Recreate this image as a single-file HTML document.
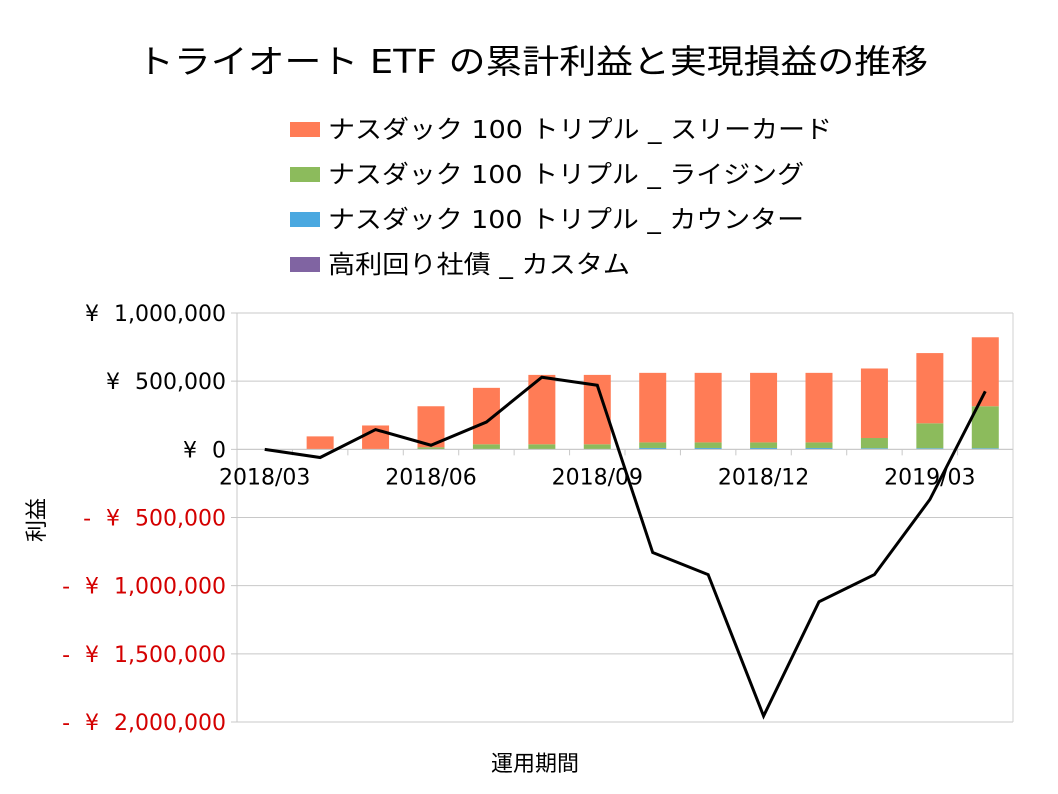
<!DOCTYPE html>
<html><head><meta charset="utf-8"><style>
body{margin:0;background:#fff}
svg{display:block;font-family:"DejaVu Sans","Noto Sans CJK JP",sans-serif}
</style></head><body>
<svg id="chart" width="1058" height="794" viewBox="0 0 1058 794">
<rect width="1058" height="794" fill="#fff"/>
<text x="137" y="73" font-size="33" textLength="791" lengthAdjust="spacingAndGlyphs" fill="#000">トライオート ETF の累計利益と実現損益の推移</text>
<g font-size="25">
<g><rect x="290" y="122" width="30" height="15" fill="#ff7c56"/><text x="328" y="138" textLength="504" lengthAdjust="spacingAndGlyphs">ナスダック 100 トリプル _ スリーカード</text></g>
<g><rect x="290" y="167" width="30" height="15" fill="#8cbb5c"/><text x="328" y="183" textLength="476" lengthAdjust="spacingAndGlyphs">ナスダック 100 トリプル _ ライジング</text></g>
<g><rect x="290" y="212" width="30" height="15" fill="#4aa8e0"/><text x="328" y="228" textLength="476" lengthAdjust="spacingAndGlyphs">ナスダック 100 トリプル _ カウンター</text></g>
<g><rect x="290" y="257" width="30" height="15" fill="#8064a2"/><text x="328" y="273" textLength="302" lengthAdjust="spacingAndGlyphs">高利回り社債 _ カスタム</text></g>
</g>
<g id="plot"></g>
<text x="535" y="771" font-size="22" text-anchor="middle">運用期間</text>
<text transform="translate(44,520) rotate(-90)" font-size="22" text-anchor="middle">利益</text>
</svg>
<script>
const categories=["2018/03","2018/04","2018/05","2018/06","2018/07","2018/08","2018/09","2018/10","2018/11","2018/12","2019/01","2019/02","2019/03","2019/04"];
const xLabels=["2018/03","","","2018/06","","","2018/09","","","2018/12","","","2019/03",""];
const counterVals=[0,0,0,0,0,0,0,10000,10000,10000,10000,8000,8000,8000];
const risingVals=[0,0,0,15000,37000,37000,37000,41000,41000,41000,41000,75000,183000,308000];
const tripleTotals=[0,95000,175000,316000,451000,546000,546000,561000,561000,561000,561000,593000,706000,822000];
const bondVals=[0,0,0,0,0,0,0,0,0,0,0,0,0,0];
const realized=[0,-60000,145000,30000,200000,529000,470000,-757000,-919000,-1956000,-1118000,-919000,-368000,426000];
const yTicks=[1000000,500000,0,-500000,-1000000,-1500000,-2000000];
const yTickLabels=["¥ 1,000,000","¥ 500,000","¥ 0","- ¥ 500,000","- ¥ 1,000,000","- ¥ 1,500,000","- ¥ 2,000,000"];

const NS="http://www.w3.org/2000/svg";
const L=237,R=1013,T=313,B=722,yMax=1000000,yMin=-2000000;
const bw=(R-L)/categories.length;
const y=v=>T+(yMax-v)/(yMax-yMin)*(B-T);
const xc=i=>L+bw*(i+0.5);
const g=document.getElementById('plot');
function mk(tag,attrs){const e=document.createElementNS(NS,tag);for(const k in attrs)e.setAttribute(k,attrs[k]);g.appendChild(e);return e;}

yTicks.forEach((v,i)=>{
  const ln=mk('line',{x1:L-6,x2:R,y1:y(v),y2:y(v),stroke:'#c8c8c8','stroke-width':1});
  
  
  const t=mk('text',{x:226,y:y(v)+8,'font-size':22,'word-spacing':'8px','text-anchor':'end',fill:v<0?'#d40000':'#000'});
  t.textContent=yTickLabels[i];
  
  
});
const ax=mk('line',{x1:L,x2:L,y1:T,y2:B,stroke:'#c8c8c8'});


const rx=mk('line',{x1:R,x2:R,y1:T,y2:B,stroke:'#d0d0d0'});



categories.forEach((c,i)=>{
  const x0=xc(i)-13.5;let base=0;
  const segs=[[counterVals[i],'#4aa8e0','bar-counter'],[risingVals[i],'#8cbb5c','bar-rising'],[tripleTotals[i]-counterVals[i]-risingVals[i],'#ff7c56','bar-triple'],[bondVals[i],'#8064a2','bar-bond']];
  segs.forEach(s=>{
    if(s[0]<=0)return;
    const r=mk('rect',{x:x0,width:27,y:y(base+s[0]),height:y(base)-y(base+s[0]),fill:s[1]});
    
    
    base+=s[0];
  });
  const tk=mk('line',{x1:L+bw*i,x2:L+bw*i,y1:y(0),y2:y(0)+6,stroke:'#c8c8c8'});
  
  
  if(xLabels[i]){
    const t=mk('text',{x:xc(i),y:y(0)+35,'font-size':22,'text-anchor':'middle'});
    t.textContent=xLabels[i];
    
    
  }
});
const zl=mk('line',{x1:L,x2:R,y1:y(0),y2:y(0),stroke:'#c8c8c8'});


const pl=mk('polyline',{points:realized.map((v,i)=>xc(i)+','+y(v)).join(' '),fill:'none',stroke:'#000','stroke-width':3,'stroke-linejoin':'miter'});


</script>
</body></html>
